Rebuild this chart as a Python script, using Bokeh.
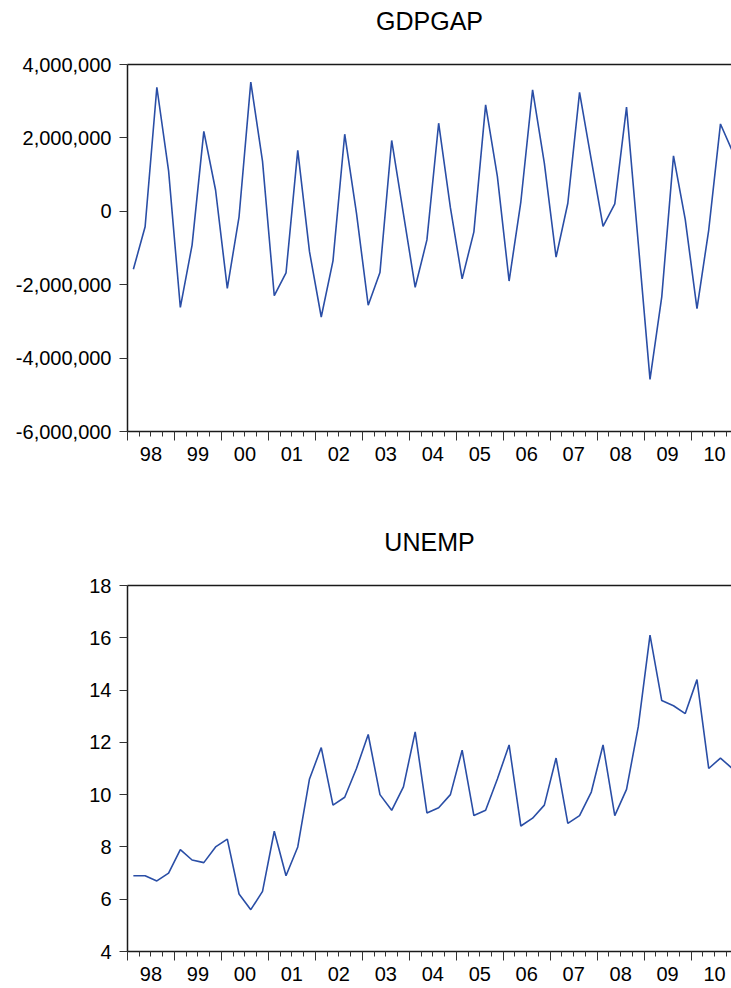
from bokeh.plotting import figure
from bokeh.models import LinearAxis, FixedTicker, NumeralTickFormatter, Range1d, ColumnDataSource
from bokeh.layouts import column
from bokeh.embed import file_html
from bokeh.resources import INLINE

# ---------------- data (quarterly, 1998Q1 .. 2010Q4) ----------------
start_year = 1998
years = list(range(1998, 2011))
year_labels = ["98", "99", "00", "01", "02", "03", "04", "05", "06", "07", "08", "09", "10"]

gdpgap = [
    -1580000, -420000, 3380000, 1100000,
    -2620000, -920000, 2180000, 580000,
    -2100000, -150000, 3520000, 1360000,
    -2300000, -1680000, 1660000, -1100000,
    -2880000, -1350000, 2100000, -50000,
    -2560000, -1670000, 1930000, -70000,
    -2070000, -780000, 2400000, 100000,
    -1840000, -560000, 2900000, 950000,
    -1900000, 260000, 3310000, 1310000,
    -1250000, 220000, 3240000, 1400000,
    -410000, 200000, 2840000, -870000,
    -4580000, -2330000, 1510000, -220000,
    -2650000, -510000, 2380000, 1650000,
]

unemp = [
    6.9, 6.9, 6.7, 7.0,
    7.9, 7.5, 7.4, 8.0,
    8.3, 6.2, 5.6, 6.3,
    8.6, 6.9, 8.0, 10.6,
    11.8, 9.6, 9.9, 11.0,
    12.3, 10.0, 9.4, 10.3,
    12.4, 9.3, 9.5, 10.0,
    11.7, 9.2, 9.4, 10.6,
    11.9, 8.8, 9.1, 9.6,
    11.4, 8.9, 9.2, 10.1,
    11.9, 9.2, 10.2, 12.6,
    16.1, 13.6, 13.4, 13.1,
    14.4, 11.0, 11.4, 11.0,
]

gdp_ticks = [-6000000, -4000000, -2000000, 0, 2000000, 4000000]
unemp_ticks = [4, 6, 8, 10, 12, 14, 16, 18]

# quarter mid-points as fractional years
dates = [start_year + (i + 0.5) / 4 for i in range(len(gdpgap))]

LINE_COLOR = "#2a4ea6"
AXIS_COLOR = "#1a1a1a"
FONT = "Liberation Sans"
X_END = 2010.86


def make_panel(title, y, yticks, fmt, height, top, bottom):
    src = ColumnDataSource(dict(x=dates, y=y))
    p = figure(width=731, height=height, output_backend="svg", toolbar_location=None,
               x_axis_type=None, x_range=Range1d(start_year, X_END),
               y_range=Range1d(yticks[0], yticks[-1]),
               min_border_left=127, min_border_right=0,
               min_border_top=top, min_border_bottom=bottom)
    p.outline_line_color = None
    p.background_fill_color = "white"
    p.border_fill_color = "white"
    p.xgrid.grid_line_color = None
    p.ygrid.grid_line_color = None

    p.title.text = title
    p.title.align = "center"
    p.title.text_font = FONT
    p.title.text_font_size = "25px"
    p.title.text_font_style = "normal"
    p.title.text_color = "black"
    p.title.standoff = 2

    yax = p.yaxis[0]
    yax.ticker = FixedTicker(ticks=yticks, minor_ticks=[])
    if fmt:
        yax.formatter = NumeralTickFormatter(format=fmt)
    yax.major_label_text_font = FONT
    yax.major_label_text_font_size = "20px"
    yax.major_label_text_color = "black"
    yax.major_tick_in = 0
    yax.major_tick_out = 8
    yax.major_label_standoff = 8
    yax.axis_line_color = AXIS_COLOR
    yax.axis_line_width = 1.5
    yax.major_tick_line_color = "#333333"

    bounds = years + [years[-1] + 1]

    # top border of the frame: invisible ticks whose length spaces the title upwards
    top_ax = LinearAxis(ticker=FixedTicker(ticks=bounds, minor_ticks=[]),
                        axis_line_color=AXIS_COLOR, axis_line_width=1.5,
                        major_tick_out=29, major_tick_in=0,
                        major_tick_line_color=None, minor_tick_line_color=None,
                        minor_tick_out=0, minor_tick_in=0,
                        major_label_text_font_size="1px", major_label_text_color=None,
                        major_label_standoff=0)
    p.add_layout(top_ax, "above")

    # tick axis: long ticks at year boundaries, short at quarters (labels hidden)
    qb = [yy + q / 4 for yy in years for q in (1, 2, 3)]
    tax = LinearAxis(ticker=FixedTicker(ticks=bounds, minor_ticks=qb),
                     major_label_text_font_size="1px", major_label_text_color=None,
                     major_label_standoff=0,
                     major_tick_in=0, major_tick_out=9,
                     minor_tick_in=0, minor_tick_out=5,
                     axis_line_color=AXIS_COLOR, axis_line_width=1.5,
                     major_tick_line_color="#333333",
                     minor_tick_line_color="#333333")
    p.add_layout(tax, "below")

    # label axis: year labels centred in each year
    mids = [yy + 0.5 for yy in years]
    lax = LinearAxis(ticker=FixedTicker(ticks=mids, minor_ticks=[]),
                     major_label_overrides={m: lab for m, lab in zip(mids, year_labels)},
                     major_tick_in=0, major_tick_out=0,
                     axis_line_color=None, major_tick_line_color=None,
                     minor_tick_line_color=None,
                     major_label_standoff=6,
                     major_label_text_font=FONT, major_label_text_font_size="20px",
                     major_label_text_color="black")
    p.add_layout(lax, "below")

    p.line("x", "y", source=src, line_color=LINE_COLOR, line_width=1.6)
    return p


p1 = make_panel("GDPGAP", gdpgap, gdp_ticks, "0,0", 480, 64, 49)
p2 = make_panel("UNEMP", unemp, unemp_ticks, None, 508, 105, 37)

layout = column(p1, p2, spacing=0)
open("out.html", "w").write(file_html(layout, INLINE))
